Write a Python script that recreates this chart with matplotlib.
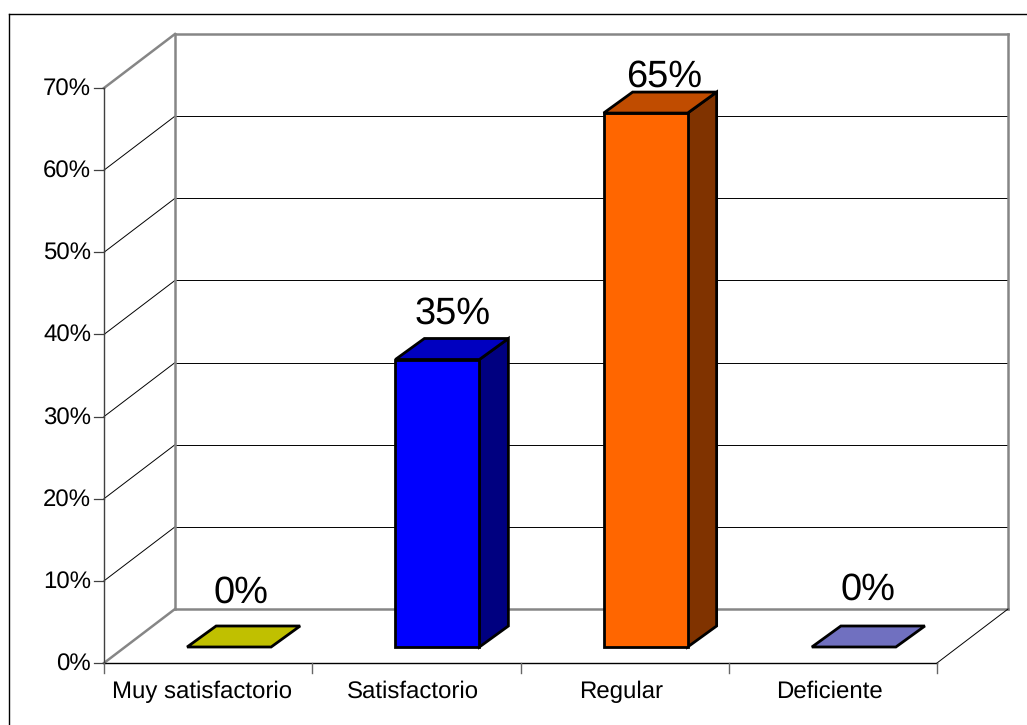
import numpy as np
import matplotlib
matplotlib.use("Agg")
import matplotlib.pyplot as plt
from matplotlib.patches import Polygon
from matplotlib.lines import Line2D

plt.rcParams['font.family'] = ['Liberation Sans', 'DejaVu Sans']
plt.rcParams['text.hinting'] = 'none'
plt.rcParams['text.hinting_factor'] = 1

# -------------------------------------------------
# DATA
# -------------------------------------------------
categorias = ["Muy satisfactorio", "Satisfactorio", "Regular", "Deficiente"]
valores = [0, 35, 65, 0]
etiquetas = ["0%", "35%", "65%", "0%"]
ticks_y = [0, 10, 20, 30, 40, 50, 60, 70]

color_frente = ["#C0C000", "#0000FF", "#FF6600", "#7070C0"]
color_arriba = ["#C0C000", "#0000C0", "#C04C00", "#7070C0"]
color_lado = ["#808000", "#000080", "#803300", "#4B4B80"]

# label placement relative to the top of each bar, in pixels
label_gap = [23, 14.5, 5.5, 26]
label_shift = [-3, 1, 4, 0]
# category names sit a little left of the slot centre
cat_shift = [-6.5, -3, -3.5, -3.5]

# -------------------------------------------------
# FIGURE
# -------------------------------------------------
W, H = 1027, 725
fig = plt.figure(figsize=(W / 100, H / 100), dpi=100)

# frame only on the left and top
fig.add_artist(Line2D([8.5 / W, 8.5 / W], [0, 1 - 13.5 / H], color="black", lw=1.0))
fig.add_artist(Line2D([8.5 / W, 1], [1 - 13.5 / H] * 2, color="black", lw=1.0))

# one x unit is one category, one y unit is one percent
ax = fig.add_axes([104 / W, 1 - 663 / H, 833 / W, 575 / H])
ax.set_xlim(0, 4)
ax.set_ylim(0, 70)
ax.axis("off")

# -------------------------------------------------
# 3D OFFSETS (in data units)
# -------------------------------------------------
px_x = 4 / 833
px_y = 70 / 575
prof_x = 71 * px_x    # depth of the floor
prof_y = 54 * px_y
ancho = 84 * px_x     # bar width
bar_dx = 29 * px_x    # bar depth
bar_dy = 21 * px_y
base_dx = 21 * px_x   # gap between front edge and bar
base_dy = 16 * px_y

GRIS = "#868686"
LW_GRIS = 1.8

# -------------------------------------------------
# WALLS AND GRID
# -------------------------------------------------
for t in ticks_y[1:-1]:
    ax.plot([0, prof_x], [t, t + prof_y], color="black", lw=0.7, clip_on=False)
    ax.plot([prof_x, 4 + prof_x], [t + prof_y] * 2, color="black", lw=0.7, clip_on=False)

ax.plot([prof_x, prof_x], [prof_y, 70 + prof_y], color=GRIS, lw=LW_GRIS, clip_on=False)
ax.plot([4 + prof_x, 4 + prof_x], [prof_y, 70 + prof_y], color=GRIS, lw=LW_GRIS, clip_on=False)
ax.plot([prof_x, 4 + prof_x], [70 + prof_y] * 2, color=GRIS, lw=LW_GRIS, clip_on=False)
ax.plot([prof_x, 4 + prof_x], [prof_y] * 2, color=GRIS, lw=LW_GRIS, clip_on=False)
ax.plot([0, prof_x], [70, 70 + prof_y], color=GRIS, lw=LW_GRIS, clip_on=False)
ax.plot([0, prof_x], [0, prof_y], color=GRIS, lw=LW_GRIS, clip_on=False)
ax.plot([4, 4 + prof_x], [0, prof_y], color="black", lw=0.7, clip_on=False)

# -------------------------------------------------
# AXES
# -------------------------------------------------
ax.plot([0, 0], [0, 70], color="#404040", lw=1.0, clip_on=False)
ax.plot([0, 4], [0, 0], color="black", lw=1.0, clip_on=False)
for t in ticks_y:
    ax.plot([-10 * px_x, 0], [t, t], color="#404040", lw=0.9, clip_on=False)
    ax.text(-13 * px_x, t - 1.5 * px_y, f"{t}%", ha="right", va="center", fontsize=17.5, color="black")
for i in range(5):
    ax.plot([i, i], [0, -10 * px_y], color="#666666", lw=1.0, clip_on=False)
for i, c in enumerate(categorias):
    ax.text(i + 0.5 + cat_shift[i] * px_x, -35 * px_y, c, ha="center", va="baseline", fontsize=17.6, color="black")

# -------------------------------------------------
# BARS
# -------------------------------------------------
for i, v in enumerate(valores):
    x0 = i + 0.5 - ancho / 2 + base_dx
    y0 = base_dy
    x1 = x0 + ancho
    y1 = y0 + v
    kw = dict(ec="black", lw=2.0, joinstyle="miter", clip_on=False, zorder=3)
    if v > 0:
        ax.add_patch(Polygon([(x1, y0), (x1 + bar_dx, y0 + bar_dy), (x1 + bar_dx, y1 + bar_dy), (x1, y1)],
                             fc=color_lado[i], **kw))
        ax.add_patch(Polygon([(x0, y0), (x1, y0), (x1, y1), (x0, y1)], fc=color_frente[i], **kw))
    ax.add_patch(Polygon([(x0, y1), (x1, y1), (x1 + bar_dx, y1 + bar_dy), (x0 + bar_dx, y1 + bar_dy)],
                         fc=color_arriba[i], **kw))
    ax.text((x0 + x1 + bar_dx) / 2 + label_shift[i] * px_x, y1 + bar_dy + label_gap[i] * px_y, etiquetas[i],
            ha="center", va="baseline", fontsize=27, color="black", zorder=4)

plt.savefig("out.png", dpi=100)
plt.close()
